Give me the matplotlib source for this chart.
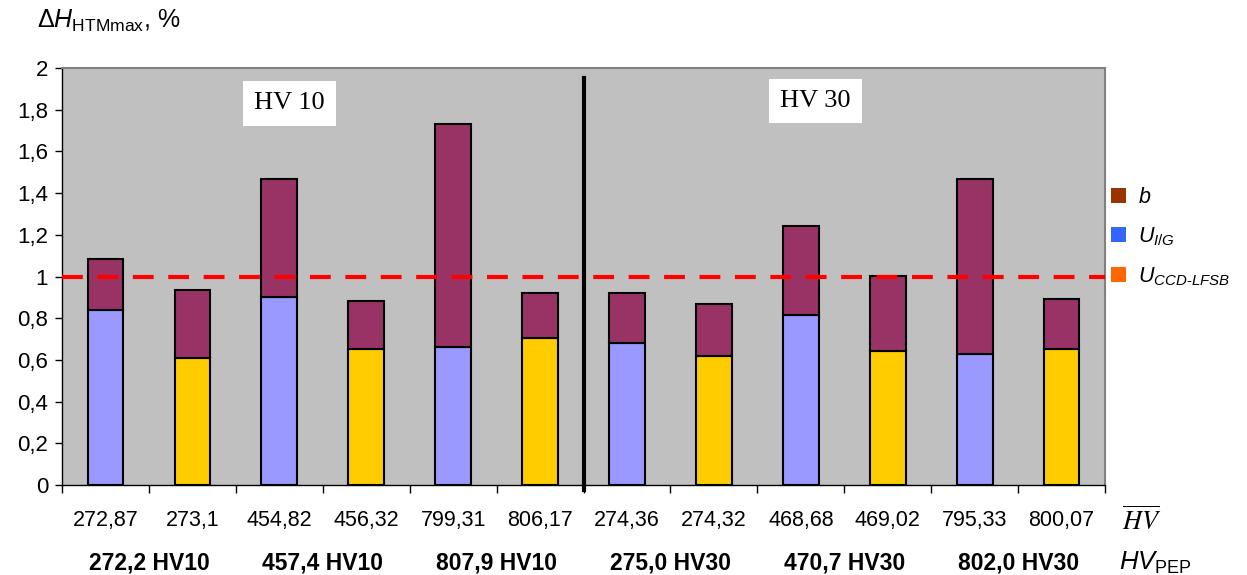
import matplotlib
matplotlib.use("Agg")
import matplotlib.pyplot as plt
import numpy as np
from matplotlib.patches import Patch

plt.rcParams['font.family'] = ['Liberation Sans', 'DejaVu Sans']
plt.rcParams['mathtext.fontset'] = 'custom'
plt.rcParams['mathtext.rm'] = 'Liberation Sans'
plt.rcParams['mathtext.it'] = 'Liberation Sans:italic'
plt.rcParams['mathtext.bf'] = 'Liberation Sans:bold'

# ==================== Data ====================
hv_mean = ['272,87', '273,1', '454,82', '456,32', '799,31', '806,17',
           '274,36', '274,32', '468,68', '469,02', '795,33', '800,07']
hv_pep = ['272,2 HV10', '457,4 HV10', '807,9 HV10',
          '275,0 HV30', '470,7 HV30', '802,0 HV30']
# lower part of each bar (U_I/G for odd bars, U_CCD-LFSB for even bars)
u_part = [0.84, 0.61, 0.90, 0.652, 0.66, 0.705,
          0.68, 0.618, 0.815, 0.643, 0.628, 0.652]
# total height of each bar
total = [1.084, 0.935, 1.467, 0.884, 1.73, 0.92,
         0.92, 0.868, 1.242, 1.002, 1.467, 0.892]
b_part = [t - u for t, u in zip(total, u_part)]
y_ticks = [0, 0.2, 0.4, 0.6, 0.8, 1, 1.2, 1.4, 1.6, 1.8, 2]
y_ticklabels = ['0', '0,2', '0,4', '0,6', '0,8', '1', '1,2', '1,4', '1,6', '1,8', '2']
limit = 1.0

# ==================== Plot ====================
fig = plt.figure(figsize=(12.47, 5.75), dpi=100)
ax = fig.add_axes([0.0497, 0.1565, 0.8365, 0.7252])
ax.set_facecolor('#C0C0C0')

x = np.arange(len(hv_mean))
low_colors = ['#9999FF' if i % 2 == 0 else '#FFCC00' for i in x]
ax.bar(x, u_part, width=0.41, color=low_colors, edgecolor='black', linewidth=1.5, zorder=2)
ax.bar(x, b_part, bottom=u_part, width=0.41, color='#993366', edgecolor='black',
       linewidth=1.5, zorder=2)

ax.axhline(limit, color='#FF0000', linestyle=(0, (5, 3.5)), linewidth=3, zorder=3)
# separator between HV 10 and HV 30
ax.plot([5.5, 5.5], [-0.025, 1.95], color='black', linewidth=3, clip_on=False, zorder=4)

ax.set_xlim(-0.5, len(hv_mean) - 0.5)
ax.set_ylim(0, 2)
ax.set_yticks(y_ticks)
ax.set_yticklabels(y_ticklabels, fontsize=16)
ax.set_xticks(np.arange(-0.5, len(hv_mean), 1.0))
ax.set_xticklabels([])
ax.tick_params(axis='x', length=6, width=1, direction='out')
ax.tick_params(axis='y', length=5, width=1, direction='out', pad=5)

for s in ['top', 'right']:
    ax.spines[s].set_color('#808080')
    ax.spines[s].set_linewidth(1.5)
for s in ['left', 'bottom']:
    ax.spines[s].set_color('black')
    ax.spines[s].set_linewidth(1)

# x labels rows
for i, lab in enumerate(hv_mean):
    ax.text(i, -0.168, lab, ha='center', va='center', fontsize=15.5, clip_on=False)
for j, lab in enumerate(hv_pep):
    ax.text(2 * j + 0.5, -0.374, lab, ha='center', va='center', fontsize=16.5, fontweight='bold',
            clip_on=False)

ax.text(11.7, -0.168, r'$\overline{HV}$', ha='left', va='center', fontsize=19,
        math_fontfamily='stix', clip_on=False)
ax.text(11.66, -0.374, r'$\mathit{HV}_{\mathrm{PEP}}$', ha='left', va='center', fontsize=18.5,
        clip_on=False)

# group labels
ax.text(2.12, 1.83, 'HV 10', ha='center', va='center', fontsize=19, family='Liberation Serif',
        bbox=dict(facecolor='white', edgecolor='none', pad=8))
ax.text(8.17, 1.84, 'HV 30', ha='center', va='center', fontsize=19, family='Liberation Serif',
        bbox=dict(facecolor='white', edgecolor='none', pad=8))

# y axis title
fig.text(0.030, 0.963, r'$\Delta \mathit{H}_{\mathrm{HTMmax}}$, %', fontsize=18, ha='left', va='center')

# legend
handles = [Patch(facecolor='#993300', edgecolor='none'),
           Patch(facecolor='#3366FF', edgecolor='none'),
           Patch(facecolor='#FF6600', edgecolor='none')]
labels = [r'$b$', r'$U_{I/G}$', '$U_{CCD\u2010LFSB}$']
fig.legend(handles, labels, loc='upper left', bbox_to_anchor=(0.884, 0.69), frameon=False,
           fontsize=15.5, handlelength=0.7, handleheight=0.7, handletextpad=0.55,
           labelspacing=0.8, borderaxespad=0)

fig.savefig('out.png', dpi=100)
